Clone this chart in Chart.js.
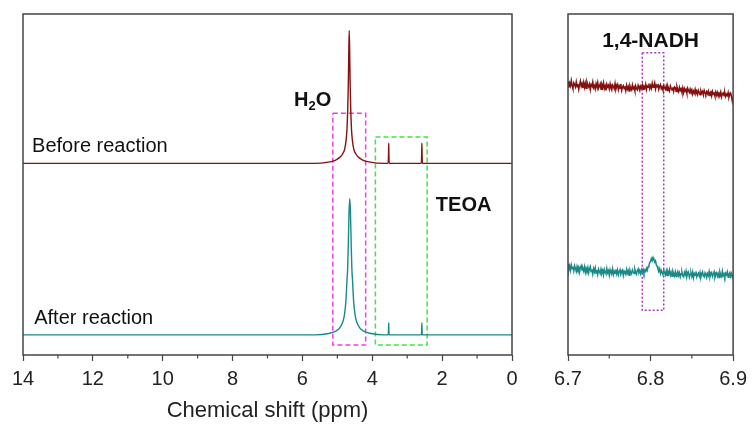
<!DOCTYPE html>
<html>
<head>
<meta charset="utf-8">
<script src="https://cdn.jsdelivr.net/npm/chart.js@4.4.1/dist/chart.umd.min.js"></script>
<style>
  html, body { margin: 0; padding: 0; background: #fff; }
  #wrap { position: relative; width: 753px; height: 425px; }
  #wrap > div { position: absolute; top: 0; height: 425px; }
</style>
</head>
<body>
<div id="wrap">
  <div style="left:0;width:540px"><canvas id="full"></canvas></div>
  <div style="left:540px;width:213px"><canvas id="zoom"></canvas></div>
</div>
<script>
// full spectrum, 14 -> 0 ppm (intensities in arbitrary units, stacked)
const beforePpm = [14, 5.66, 5.26, 5.06, 4.95, 4.86, 4.79, 4.75, 4.725, 4.7, 4.685, 4.672, 4.66,
  4.648, 4.635, 4.62, 4.595, 4.57, 4.53, 4.46, 4.37, 4.26, 4.06, 3.66,
  3.545, 3.535, 3.53, 3.525, 3.515, 2.595, 2.585, 2.58, 2.575, 2.565, 0];
const beforeInt = [56.2, 56.2, 56.55, 57.1, 57.8, 58.8, 60.4, 63.0, 66.2, 73.2, 80.2, 89.2, 95.2,
  89.2, 80.2, 73.2, 66.2, 63.0, 60.4, 58.8, 57.8, 57.1, 56.55, 56.2,
  56.2, 59.0, 62.1, 59.0, 56.2, 56.2, 59.0, 62.1, 59.0, 56.2, 56.2];

const afterPpm = [14, 5.645, 5.245, 5.045, 4.935, 4.845, 4.795, 4.755, 4.725, 4.705, 4.685, 4.665, 4.645,
  4.625, 4.605, 4.585, 4.565, 4.535, 4.495, 4.445, 4.355, 4.245, 4.045, 3.645,
  3.545, 3.535, 3.53, 3.525, 3.515, 2.595, 2.585, 2.58, 2.575, 2.565, 0];
const afterInt = [5.9, 5.9, 6.3, 7.0, 7.9, 9.7, 11.9, 15.9, 21.8, 25.4, 32.9, 41.9, 45.9,
  41.9, 32.9, 25.4, 21.8, 15.9, 11.9, 9.7, 7.9, 7.0, 6.3, 5.9,
  5.9, 7.4, 9.4, 7.4, 5.9, 5.9, 7.4, 9.4, 7.4, 5.9, 5.9];

// expanded 6.7 - 6.9 ppm region, one value every 0.001 ppm
const nadhStart = 6.7;
const nadhStep = 0.001;
const nadhBefore = [
  80.2, 78.4, 79.7, 78.9, 80.5, 79.0, 78.1, 79.8, 79.3, 78.6,
  80.1, 78.7, 79.5, 77.9, 79.2, 80.3, 78.8, 79.6, 78.3, 79.9,
  78.5, 79.7, 78.2, 80.0, 79.1, 78.6, 79.4, 77.8, 79.3, 78.9,
  80.1, 78.4, 79.0, 78.0, 79.6, 78.7, 79.9, 78.2, 78.8, 79.5,
  77.9, 79.3, 78.5, 79.8, 78.1, 78.9, 77.6, 79.4, 78.6, 79.1,
  78.0, 79.5, 78.3, 77.7, 79.2, 78.8, 78.1, 79.6, 77.9, 78.7,
  79.3, 77.8, 78.9, 78.2, 79.5, 77.6, 78.6, 79.0, 78.1, 78.8,
  77.5, 79.1, 78.0, 78.7, 77.4, 79.0, 78.3, 77.8, 79.2, 78.1,
  78.6, 77.5, 78.9, 78.0, 77.7, 79.1, 78.4, 77.6, 78.8, 78.2,
  79.2, 77.9, 78.7, 78.3, 79.4, 77.8, 78.9, 78.5, 79.6, 78.1,
  79.0, 78.2, 79.7, 78.5, 78.9, 79.8, 78.0, 79.1, 78.6, 79.5,
  77.9, 78.8, 79.3, 78.1, 78.6, 77.7, 79.0, 78.4, 77.9, 78.9,
  77.6, 78.8, 78.0, 77.4, 78.9, 78.2, 77.7, 78.5, 77.3, 78.6,
  78.4, 77.3, 78.7, 77.8, 77.2, 78.5, 77.6, 78.1, 77.0, 78.3,
  76.9, 78.1, 77.4, 77.9, 76.8, 78.2, 77.5, 77.0, 78.0, 77.3,
  77.8, 76.5, 77.4, 76.8, 77.9, 76.7, 77.3, 76.4, 77.6, 77.0,
  76.3, 77.5, 76.8, 77.3, 76.2, 77.6, 76.9, 76.4, 77.2, 76.6,
  77.4, 76.1, 76.9, 77.2, 76.0, 77.3, 76.5, 76.8, 75.9, 77.1,
  76.2, 77.0, 75.9, 76.8, 76.4, 77.2, 75.7, 76.6, 76.9, 76.0,
  76.9, 75.8, 76.5, 76.1, 77.0, 75.6, 76.4, 76.8, 75.9, 74.4,
  75.8];
const nadhAfter = [
  26.7, 25.0, 26.1, 24.8, 26.4, 25.3, 25.9, 24.6, 26.2, 25.4,
  24.5, 26.0, 25.1, 25.8, 24.3, 25.6, 26.2, 24.9, 25.4, 24.6,
  25.9, 24.3, 25.5, 24.8, 25.7, 24.1, 25.2, 25.9, 24.4, 25.1,
  23.7, 25.3, 24.4, 25.6, 24.0, 24.9, 23.6, 25.2, 24.5, 23.9,
  25.2, 24.0, 24.8, 23.5, 25.1, 24.3, 23.8, 25.4, 24.1, 24.7,
  23.4, 25.0, 24.2, 23.9, 25.3, 23.6, 24.6, 24.0, 25.1, 23.8,
  24.9, 23.5, 24.4, 25.0, 23.7, 24.3, 24.8, 23.3, 24.6, 24.1,
  23.6, 25.1, 24.0, 24.7, 23.4, 24.9, 24.2, 23.8, 25.0, 24.4,
  23.9, 25.2, 24.3, 23.7, 24.8, 25.3, 24.1, 24.6, 23.8, 25.0,
  24.3, 25.1, 24.0, 24.9, 24.5, 25.4, 24.8, 25.9, 26.2, 27.1,
  27.4, 28.3, 27.7, 28.6, 27.9, 27.2, 27.6, 26.4, 26.0, 25.2,
  24.6, 25.3, 23.9, 24.8, 24.2, 23.6, 24.9, 24.1, 23.5, 24.7,
  23.3, 24.5, 23.8, 24.9, 23.4, 24.2, 23.1, 24.6, 23.9, 23.2,
  24.4, 23.0, 23.9, 24.5, 23.3, 24.1, 22.9, 23.8, 24.3, 23.2,
  22.9, 24.2, 23.5, 24.6, 23.0, 23.8, 24.3, 22.8, 23.7, 24.1,
  23.0, 24.3, 22.7, 23.9, 23.4, 24.5, 22.9, 23.6, 24.0, 23.1,
  24.2, 22.8, 23.7, 24.4, 23.2, 22.9, 24.1, 23.5, 22.7, 23.9,
  23.3, 24.5, 22.9, 23.8, 24.2, 23.0, 23.6, 24.4, 22.8, 23.7,
  24.1, 23.1, 23.9, 22.7, 24.3, 23.4, 23.0, 24.6, 23.2, 23.8,
  22.9, 24.0, 23.5, 24.4, 22.8, 23.7, 24.2, 23.1, 23.9, 22.9,
  23.6];

// dashed highlight boxes [ppm left, ppm right, top, bottom]
const waterBox = [5.13, 4.19, 70.9, 2.9];
const teoaBox = [3.91, 2.43, 63.9, 2.9];
const nadhBox = [6.79, 6.816, 88.6, 13.1];

const RED = '#861010';
const TEAL = '#1a8a87';
const FONT = 'Arial, "Liberation Sans", sans-serif';

function pts(xs, ys) { return xs.map((x, i) => ({ x: x, y: ys[i] })); }
function boxPts(b) {
  return [{ x: b[0], y: b[2] }, { x: b[1], y: b[2] }, { x: b[1], y: b[3] },
          { x: b[0], y: b[3] }, { x: b[0], y: b[2] }];
}
function boxSet(b, color, dash) {
  return { data: boxPts(b), borderColor: color, borderWidth: 1.5, borderDash: dash,
           pointRadius: 0, tension: 0, fill: false };
}

// frame round the plot area + short minor ticks
function framePlugin(minorStep, majorStep) {
  return {
    id: 'frame',
    afterDraw(chart) {
      const { ctx, chartArea: a, scales } = chart;
      ctx.save();
      ctx.strokeStyle = '#444';
      ctx.lineWidth = 1.5;
      ctx.strokeRect(a.left, a.top, a.right - a.left, a.bottom - a.top);
      const xs = scales.x;
      ctx.lineWidth = 1.2;
      const n = Math.round((xs.max - xs.min) / minorStep);
      for (let i = 0; i <= n; i++) {
        const v = xs.min + i * minorStep;
        const r = v / majorStep;
        if (Math.abs(r - Math.round(r)) < 1e-6) continue;
        const px = xs.getPixelForValue(v);
        ctx.beginPath();
        ctx.moveTo(px, a.bottom);
        ctx.lineTo(px, a.bottom + 3.5);
        ctx.stroke();
      }
      ctx.restore();
    }
  };
}

// text labels anchored at data coordinates
function notesPlugin(notes) {
  return {
    id: 'notes',
    afterDatasetsDraw(chart) {
      const { ctx, scales } = chart;
      ctx.save();
      ctx.fillStyle = '#111';
      ctx.textBaseline = 'alphabetic';
      notes.forEach(n => {
        let x = scales.x.getPixelForValue(n.x);
        const y = scales.y.getPixelForValue(n.y);
        ctx.textAlign = n.align || 'left';
        const parts = n.parts || [[n.text, 0, n.size]];
        parts.forEach(p => {
          ctx.font = (n.bold ? 'bold ' : '') + p[2] + 'px ' + FONT;
          ctx.fillText(p[0], x, y + p[1]);
          x += ctx.measureText(p[0]).width;
        });
      });
      ctx.restore();
    }
  };
}

function xAxis(min, max, step, reverse, labelEvery, title) {
  return {
    type: 'linear', min: min, max: max, reverse: reverse,
    border: { display: false },
    grid: { display: true, drawOnChartArea: false, drawTicks: true, tickLength: 6,
            tickWidth: 1.2, tickColor: '#444' },
    ticks: {
      stepSize: step, autoSkip: false, maxRotation: 0, padding: 6,
      color: '#222', font: { family: FONT, size: 20 },
      callback: v => labelEvery ? (Math.round(v) % labelEvery === 0 ? v : '') : v.toFixed(1)
    },
    title: title ? { display: true, text: title, color: '#222',
                     font: { family: FONT, size: 22 }, padding: { top: 1, bottom: 0 } }
                 : { display: false }
  };
}

const yAxis = { min: 0, max: 100, display: false };

new Chart(document.getElementById('full'), {
  type: 'line',
  data: {
    datasets: [
      { data: pts(beforePpm, beforeInt), borderColor: RED, borderWidth: 1.4, pointRadius: 0,
        cubicInterpolationMode: 'monotone', fill: false },
      { data: pts(afterPpm, afterInt), borderColor: TEAL, borderWidth: 1.4, pointRadius: 0,
        cubicInterpolationMode: 'monotone', fill: false },
      boxSet(waterBox, '#ee3cee', [5, 3]),
      boxSet(teoaBox, '#3fe63f', [5, 3])
    ]
  },
  options: {
    responsive: true, maintainAspectRatio: false, animation: false,
    layout: { padding: { left: 23, right: 28, top: 14, bottom: 0.6 } },
    plugins: { legend: { display: false }, tooltip: { enabled: false } },
    scales: { x: xAxis(0, 14, 2, true, 2, 'Chemical shift (ppm)'), y: yAxis }
  },
  plugins: [framePlugin(1, 2), notesPlugin([
    { x: 13.74, y: 59.4, text: 'Before reaction', size: 20 },
    { x: 13.68, y: 9.0, text: 'After reaction', size: 20 },
    { x: 6.24, y: 72.9, bold: true, parts: [['H', 0, 20], ['2', 4, 13], ['O', 0, 20]] },
    { x: 2.18, y: 42.1, text: 'TEOA', size: 20, bold: true }
  ])]
});

const nadhPpm = nadhBefore.map((_, i) => nadhStart + i * nadhStep);

new Chart(document.getElementById('zoom'), {
  type: 'line',
  data: {
    datasets: [
      { data: pts(nadhPpm, nadhBefore), borderColor: RED, borderWidth: 1.5, pointRadius: 0,
        tension: 0, fill: false },
      { data: pts(nadhPpm, nadhAfter), borderColor: TEAL, borderWidth: 1.5, pointRadius: 0,
        tension: 0, fill: false },
      boxSet(nadhBox, '#a43cc4', [2, 2])
    ]
  },
  options: {
    responsive: true, maintainAspectRatio: false, animation: false,
    layout: { padding: { left: 28, right: 19, top: 14, bottom: 28 } },
    plugins: { legend: { display: false }, tooltip: { enabled: false } },
    scales: { x: xAxis(6.7, 6.9, 0.1, false, 0, null), y: yAxis }
  },
  plugins: [framePlugin(0.05, 0.1), notesPlugin([
    { x: 6.8, y: 90.4, text: '1,4-NADH', size: 21, bold: true, align: 'center' }
  ])]
});
</script>
</body>
</html>
